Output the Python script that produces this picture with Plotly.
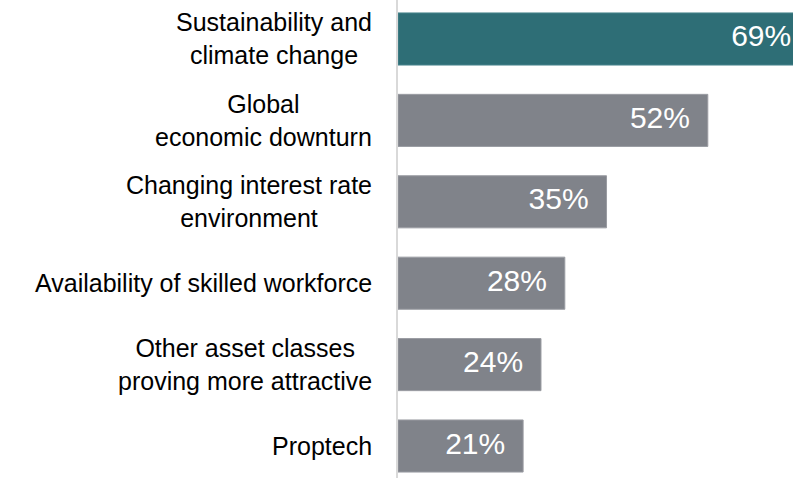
import plotly.graph_objects as go

categories = [
    "Sustainability and<br>climate change",
    "Global<br>economic downturn",
    "Changing interest rate<br>environment",
    "Availability of skilled workforce",
    "Other asset classes<br>proving more attractive",
    "Proptech",
]
values = [69, 52, 35, 28, 24, 21]
labels = [f"{v}%" for v in values]
colors = ["#2E6E76"] + ["#80838A"] * 5
line_colors = ["#4A868D"] + ["#9A9CA2"] * 5

idx = list(range(len(categories)))

fig = go.Figure()
fig.add_trace(go.Bar(
    x=values, y=idx, orientation="h",
    marker=dict(color=colors, line=dict(color=line_colors, width=1)),
    width=0.64, hoverinfo="skip",
))
fig.add_trace(go.Scatter(
    x=values, y=idx, mode="markers+text", text=labels,
    textposition="middle left", cliponaxis=True,
    marker=dict(size=27, color="rgba(0,0,0,0)"),
    textfont=dict(family="Liberation Sans, Arial, sans-serif", size=30, color="#FFFFFF"),
    hoverinfo="skip",
))

annotations = []
for i, c in enumerate(categories):
    annotations.append(dict(
        x=0, xref="paper", y=i, yref="y", text=c, showarrow=False,
        xanchor="right", yanchor="middle", align="center", xshift=-24,
        font=dict(family="Liberation Sans, Arial, sans-serif", size=25, color="#000000"),
    ))

fig.update_layout(
    width=793, height=478,
    margin=dict(l=398, r=0, t=0, b=0),
    paper_bgcolor="white", plot_bgcolor="white",
    showlegend=False,
    annotations=annotations,
    xaxis=dict(range=[0, 66.3], visible=False, fixedrange=True),
    yaxis=dict(range=[5.393, -0.479], showticklabels=False, showgrid=False,
               zeroline=False, showline=True, linecolor="#D9D9D9", linewidth=2,
               ticks="", fixedrange=True),
)

fig.write_html("out.html", config={"displayModeBar": False})
